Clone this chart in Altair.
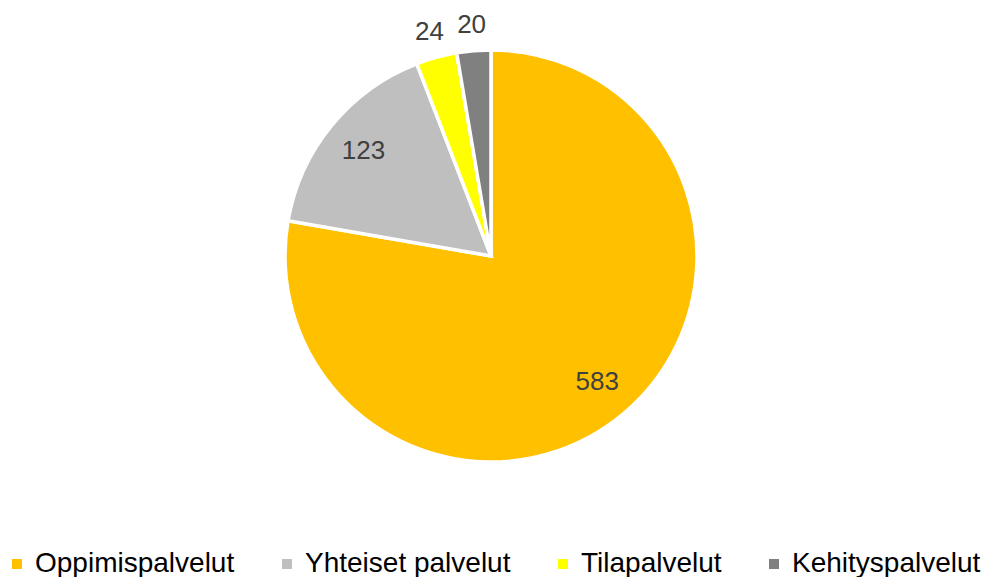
import altair as alt
import pandas as pd

categories = ["Oppimispalvelut", "Yhteiset palvelut", "Tilapalvelut", "Kehityspalvelut"]
values = [583, 123, 24, 20]
colors = ["#FFC000", "#BFBFBF", "#FFFF00", "#808080"]

df = pd.DataFrame({"category": categories, "value": values, "idx": list(range(len(categories)))})

CX, CY = 483, 248

pie = alt.Chart(df).mark_arc(outerRadius=206, stroke="white", strokeWidth=3.5).encode(
    theta=alt.Theta("value:Q", stack=True),
    order=alt.Order("idx:Q", sort="ascending"),
    x=alt.value(CX),
    y=alt.value(CY),
    color=alt.Color(
        "category:N",
        scale=alt.Scale(domain=categories, range=colors),
        sort=categories,
        legend=alt.Legend(
            title=None,
            orient="none",
            legendX=-5,
            legendY=542,
            direction="horizontal",
            columns=4,
            symbolType="square",
            symbolSize=100,
            symbolStrokeWidth=0,
            symbolOffset=0,
            labelFont="Liberation Sans",
            labelFontSize=28,
            labelColor="#000000",
            labelOffset=4,
            columnPadding=38,
            padding=0,
            labelLimit=400,
        ),
    ),
)

labels = alt.Chart(df).transform_window(
    cum="sum(value)", sort=[alt.SortField("idx", order="ascending")]
).transform_calculate(
    mid="datum.cum - datum.value / 2",
    labelR="datum.value < 50 ? 232 : 165",
).mark_text(font="Liberation Sans", fontSize=26, color="#404040").encode(
    theta=alt.Theta("mid:Q", stack=None),
    radius=alt.Radius("labelR:Q", scale=None),
    x=alt.value(CX),
    y=alt.value(CY),
    text=alt.Text("value:Q"),
)

chart = alt.layer(pie, labels).properties(
    width=973, height=569, padding=0, autosize=alt.AutoSizeParams(type="none")
).configure_view(stroke=None)

chart.save("out.html", embed_options={"renderer": "svg", "actions": False})
